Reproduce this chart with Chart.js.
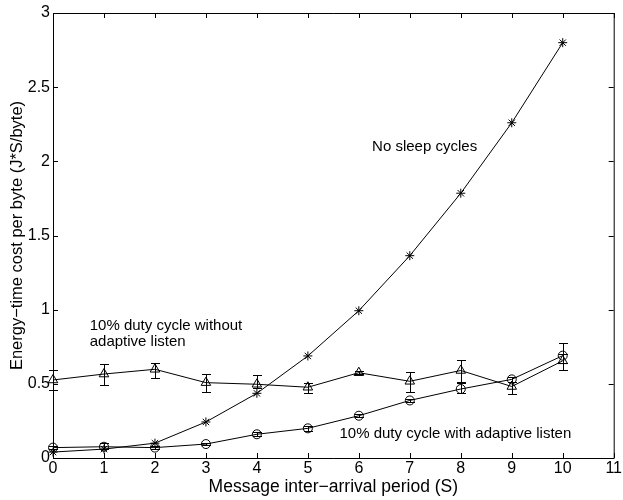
<!DOCTYPE html>
<html>
<head>
<meta charset="utf-8">
<script src="https://cdn.jsdelivr.net/npm/chart.js@4.4.1/dist/chart.umd.min.js"></script>
<style>
  html, body { margin: 0; padding: 0; background: #fff; }
</style>
</head>
<body>
<canvas id="energyChart" width="623" height="500"></canvas>
<script>
// Message inter-arrival period (S)
const periods = [0, 1, 2, 3, 4, 5, 6, 7, 8, 9, 10];

// No sleep cycles
const noSleep = [0.04, 0.06, 0.10, 0.243, 0.436, 0.688, 0.993, 1.364, 1.785, 2.26, 2.80];

// 10% duty cycle without adaptive listen (with error bars)
const dutyNoAdaptive     = [0.526, 0.566, 0.598, 0.508, 0.497, 0.477, 0.575, 0.517, 0.590, 0.482, 0.655];
const dutyNoAdaptiveLow  = [0.46, 0.49, 0.537, 0.447, 0.47, 0.436, 0.565, 0.447, 0.508, 0.43, 0.593];
const dutyNoAdaptiveHigh = [0.59, 0.632, 0.643, 0.566, 0.56, 0.508, 0.585, 0.582, 0.661, 0.514, 0.70];

// 10% duty cycle with adaptive listen (with error bars)
const dutyAdaptive     = [0.07, 0.076, 0.07, 0.094, 0.16, 0.20, 0.285, 0.388, 0.465, 0.53, 0.69];
const dutyAdaptiveLow  = [0.06, 0.06, 0.06, 0.085, 0.145, 0.185, 0.275, 0.375, 0.438, 0.515, 0.64];
const dutyAdaptiveHigh = [0.08, 0.10, 0.08, 0.10, 0.175, 0.215, 0.295, 0.40, 0.51, 0.545, 0.777];

const xTicks = [0, 1, 2, 3, 4, 5, 6, 7, 8, 9, 10, 11];
const yTicks = [0, 0.5, 1, 1.5, 2, 2.5, 3];

const FONT = '"Liberation Sans", Arial, Helvetica, sans-serif';

// Draw the box with inward ticks on all four sides
const framePlugin = {
    id: 'frame',
    afterDraw(chart) {
        const { ctx, chartArea: a, scales } = chart;
        const len = 5;
        ctx.save();
        ctx.strokeStyle = '#000';
        ctx.lineWidth = 1;
        ctx.beginPath();
        ctx.rect(a.left + 0.5, a.top + 0.5, a.right - a.left, a.bottom - a.top);
        for (const v of xTicks) {
            const px = Math.round(scales.x.getPixelForValue(v)) + 0.5;
            ctx.moveTo(px, a.bottom);
            ctx.lineTo(px, a.bottom - len);
            ctx.moveTo(px, a.top);
            ctx.lineTo(px, a.top + len);
        }
        for (const v of yTicks) {
            const py = Math.round(scales.y.getPixelForValue(v)) + 0.5;
            ctx.moveTo(a.left, py);
            ctx.lineTo(a.left + len, py);
            ctx.moveTo(a.right, py);
            ctx.lineTo(a.right - len, py);
        }
        ctx.stroke();
        ctx.restore();
    }
};

// Vertical error bars with caps
const errorBarPlugin = {
    id: 'errorBars',
    afterDatasetsDraw(chart) {
        const { ctx, scales } = chart;
        const cap = 4.5;
        ctx.save();
        ctx.strokeStyle = '#000';
        ctx.lineWidth = 1;
        chart.data.datasets.forEach(ds => {
            if (!ds.errLow) return;
            ds.data.forEach((p, i) => {
                const x = Math.round(scales.x.getPixelForValue(p.x)) + 0.5;
                const y1 = Math.round(scales.y.getPixelForValue(ds.errLow[i])) + 0.5;
                const y2 = Math.round(scales.y.getPixelForValue(ds.errHigh[i])) + 0.5;
                ctx.beginPath();
                ctx.moveTo(x, y1);
                ctx.lineTo(x, y2);
                ctx.moveTo(x - cap, y1);
                ctx.lineTo(x + cap, y1);
                ctx.moveTo(x - cap, y2);
                ctx.lineTo(x + cap, y2);
                ctx.stroke();
            });
        });
        ctx.restore();
    }
};

// Text labels placed inside the plot
const labelPlugin = {
    id: 'labels',
    afterDraw(chart) {
        const { ctx, scales } = chart;
        const notes = [
            { text: 'No sleep cycles', x: 6.26, y: 2.10 },
            { text: '10% duty cycle without', x: 0.72, y: 0.89 },
            { text: 'adaptive listen', x: 0.72, y: 0.785 },
            { text: '10% duty cycle with adaptive listen', x: 5.62, y: 0.165 }
        ];
        ctx.save();
        ctx.fillStyle = '#000';
        ctx.font = '15px ' + FONT;
        ctx.textAlign = 'left';
        ctx.textBaseline = 'middle';
        notes.forEach(n => {
            ctx.fillText(n.text, scales.x.getPixelForValue(n.x), scales.y.getPixelForValue(n.y));
        });
        ctx.restore();
    }
};

const toPoints = arr => arr.map((v, i) => ({ x: periods[i], y: v }));

const ctx = document.getElementById('energyChart').getContext('2d');

const energyChart = new Chart(ctx, {
    type: 'line',
    data: {
        datasets: [
            {
                label: 'No sleep cycles',
                data: toPoints(noSleep),
                borderColor: '#000',
                borderWidth: 1,
                pointStyle: 'star',
                pointRadius: 4.5,
                pointBorderColor: '#000',
                pointBorderWidth: 1,
                fill: false,
                tension: 0,
                clip: false
            },
            {
                label: '10% duty cycle without adaptive listen',
                data: toPoints(dutyNoAdaptive),
                errLow: dutyNoAdaptiveLow,
                errHigh: dutyNoAdaptiveHigh,
                borderColor: '#000',
                borderWidth: 1,
                pointStyle: 'triangle',
                pointRadius: 5.5,
                pointBackgroundColor: 'rgba(0,0,0,0)',
                pointBorderColor: '#000',
                pointBorderWidth: 1,
                fill: false,
                tension: 0,
                clip: false
            },
            {
                label: '10% duty cycle with adaptive listen',
                data: toPoints(dutyAdaptive),
                errLow: dutyAdaptiveLow,
                errHigh: dutyAdaptiveHigh,
                borderColor: '#000',
                borderWidth: 1,
                pointStyle: 'circle',
                pointRadius: 4.5,
                pointBackgroundColor: 'rgba(0,0,0,0)',
                pointBorderColor: '#000',
                pointBorderWidth: 1,
                fill: false,
                tension: 0,
                clip: false
            }
        ]
    },
    options: {
        responsive: false,
        animation: false,
        devicePixelRatio: 1,
        layout: {
            padding: { top: 13, right: 6, left: 0, bottom: 0 }
        },
        plugins: {
            legend: { display: false },
            tooltip: { enabled: false }
        },
        scales: {
            x: {
                type: 'linear',
                min: 0,
                max: 11,
                afterBuildTicks: axis => { axis.ticks = xTicks.map(v => ({ value: v })); },
                afterFit: axis => { axis.height = 42; },
                grid: { display: false, drawTicks: false },
                border: { display: false },
                ticks: {
                    color: '#000',
                    padding: 1,
                    maxRotation: 0,
                    font: { family: FONT, size: 16 }
                },
                title: {
                    display: true,
                    text: 'Message inter\u2212arrival period (S)',
                    color: '#000',
                    padding: { top: 0, bottom: 2 },
                    font: { family: FONT, size: 17.5 }
                }
            },
            y: {
                min: 0,
                max: 3,
                afterBuildTicks: axis => { axis.ticks = yTicks.map(v => ({ value: v })); },
                afterFit: axis => { axis.width = 53; },
                grid: { display: false, drawTicks: false },
                border: { display: false },
                ticks: {
                    color: '#000',
                    padding: 3,
                    font: { family: FONT, size: 16 },
                    callback: v => String(v)
                },
                title: {
                    display: true,
                    text: 'Energy\u2212time cost per byte (J*S/byte)',
                    color: '#000',
                    padding: { top: 8, bottom: 0 },
                    font: { family: FONT, size: 16.5 }
                }
            }
        }
    },
    plugins: [framePlugin, errorBarPlugin, labelPlugin]
});
</script>
</body>
</html>
